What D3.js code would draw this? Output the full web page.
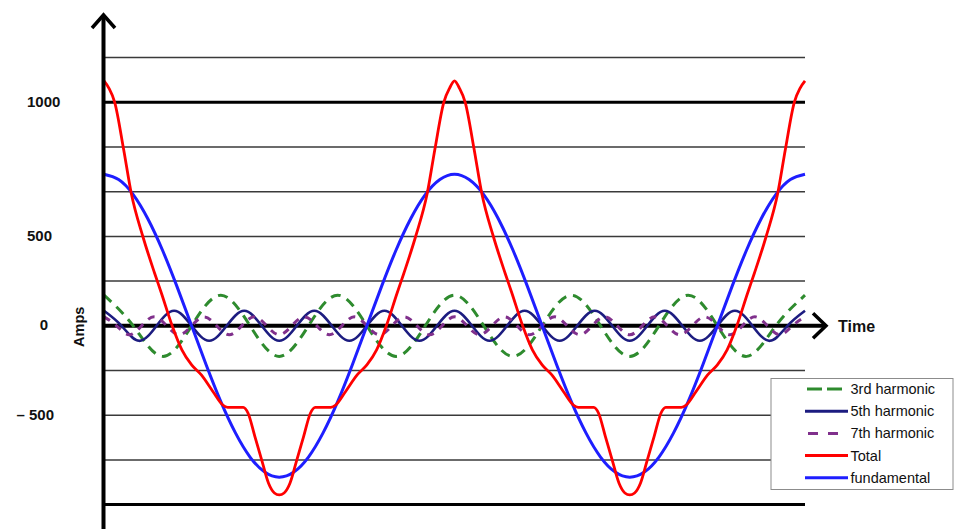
<!DOCTYPE html>
<html lang="en">
<head>
<meta charset="UTF-8">
<title>Harmonics and total current</title>
<script src="https://d3js.org/d3.v7.min.js"></script>
<style>
  body { margin: 0; background: #fff; }
  svg { display: block; font-family: "Liberation Sans", Arial, sans-serif; }
</style>
<script>
// Time is in degrees of the fundamental, values in Amps
var fundDeg  = [0,15,30,45,60,75,90,105,120,135,150,165,180,195,210,225,240,255,270,285,300,315,330,345,360,
                375,390,405,420,435,450,465,480,495,510,525,540,555,570,585,600,615,630,645,660,675,690,705,720];
var fundAmps = [732,712,656,566,424,219,0,-219,-424,-599,-734,-818,-847,-818,-734,-599,-424,-219,0,219,424,566,656,712,732,
                712,656,566,424,219,0,-219,-424,-599,-734,-818,-847,-818,-734,-599,-424,-219,0,219,424,566,656,712,732];

var thirdDeg  = [0,30,60,90,120,150,180,210,240,270,300,330,360,390,420,450,480,510,540,570,600,630,660,690,720];
var thirdAmps = [171,0,-171,0,171,0,-171,0,171,0,-171,0,171,0,-171,0,171,0,-171,0,171,0,-171,0,171];

var fifthDeg  = [0,18,36,54,72,90,108,126,144,162,180,198,216,234,252,270,288,306,324,342,360,
                 378,396,414,432,450,468,486,504,522,540,558,576,594,612,630,648,666,684,702,720];
var fifthAmps = [84,0,-84,0,84,0,-84,0,84,0,-84,0,84,0,-84,0,84,0,-84,0,84,
                 0,-84,0,84,0,-84,0,84,0,-84,0,84,0,-84,0,84,0,-84,0,84];

var seventhDeg  = [0,12.9,25.7,38.6,51.4,64.3,77.1,90,102.9,115.7,128.6,141.4,154.3,167.1,
                   180,192.9,205.7,218.6,231.4,244.3,257.1,270,282.9,295.7,308.6,321.4,334.3,347.1,
                   360,372.9,385.7,398.6,411.4,424.3,437.1,450,462.9,475.7,488.6,501.4,514.3,527.1,
                   540,552.9,565.7,578.6,591.4,604.3,617.1,630,642.9,655.7,668.6,681.4,694.3,707.1,720];
var seventhAmps = [50,0,-50,0,50,0,-50,0,50,0,-50,0,50,0,
                   -50,0,50,0,-50,0,50,0,-50,0,50,0,-50,0,
                   50,0,-50,0,50,0,-50,0,50,0,-50,0,50,0,
                   -50,0,50,0,-50,0,50,0,-50,0,50,0,-50,0,50];

var totalDeg  = [0,5,11,20,28,40,52,59,70,80,90,100,112,122,127,143,148,155,162,169,175,
                 180,185,191,198,205,212,217,233,238,248,260,270,280,290,301,308,320,332,340,349,355,
                 360,365,371,380,388,400,412,419,430,440,450,460,472,482,487,503,508,515,522,529,535,
                 540,545,551,558,565,572,577,593,598,608,620,630,640,650,661,668,680,692,700,709,715,720];
var totalAmps = [1080,1053,1000,828,661,498,294,182,0,-135,-219,-275,-369,-443,-456,-456,-489,-620,-751,-881,-935,
                 -946,-935,-881,-751,-620,-489,-456,-456,-443,-369,-275,-219,-135,0,182,294,498,661,828,1000,1053,
                 1080,1053,1000,828,661,498,294,182,0,-135,-219,-275,-369,-443,-456,-456,-489,-620,-751,-881,-935,
                 -946,-935,-881,-751,-620,-489,-456,-456,-443,-369,-275,-219,-135,0,182,294,498,661,828,1000,1053,1080];

// horizontal rules and the labelled ticks
var gridAmps = [-1000,-750,-500,-250,250,500,666.7,833.3,1000,1166.7];
var tickAmps = [1000,500,0,-500];

function diagram() {
  var width = 956, height = 529;
  var y0 = 325.8, step = 44.7;   // zero line and rule spacing

  var svg = d3.select("body").append("svg")
      .attr("width", width)
      .attr("height", height);

  var x = d3.scaleLinear().domain([0, 720]).range([104, 805]);
  // the drawn labels are not evenly spaced, so the scale is piecewise
  var y = d3.scaleLinear()
      .domain([-1000, 0, 500, 1000])
      .range([y0 + 4 * step, y0, y0 - 2 * step, y0 - 5 * step]);

  // rules
  svg.append("g").selectAll("line")
    .data(gridAmps)
    .enter().append("line")
      .attr("x1", x(0)).attr("x2", x(720))
      .attr("y1", function(d) { return y(d); })
      .attr("y2", function(d) { return y(d); })
      .attr("stroke", function(d) { return Math.abs(d) === 1000 ? "#000" : "#3a3a3a"; })
      .attr("stroke-width", function(d) { return Math.abs(d) === 1000 ? 3 : 1.5; });

  // tick labels
  svg.append("g").selectAll("text")
    .data(tickAmps)
    .enter().append("text")
      .attr("x", function(d) { return d > 0 ? 27 : (d === 0 ? 44 : 54); })
      .attr("y", function(d) { return y(d) - 1; })
      .attr("text-anchor", function(d) { return d > 0 ? "start" : (d === 0 ? "middle" : "end"); })
      .attr("dominant-baseline", "central")
      .attr("font-size", "15px")
      .attr("font-weight", "bold")
      .attr("fill", "#111")
      .text(function(d) { return d < 0 ? "\u2013 " + Math.abs(d) : d; });

  svg.append("text")
    .attr("transform", "translate(79," + (y0 + 1) + ") rotate(-90)")
    .attr("text-anchor", "middle")
    .attr("dominant-baseline", "central")
    .attr("font-size", "14.5px")
    .attr("font-weight", "bold")
    .attr("fill", "#111")
    .text("Amps");

  // time axis with arrow
  svg.append("line")
    .attr("x1", x(0)).attr("x2", 824)
    .attr("y1", y(0)).attr("y2", y(0))
    .attr("stroke", "#000").attr("stroke-width", 4);
  svg.append("polyline")
    .attr("points", [[813, y(0) - 12.5], [826, y(0)], [813, y(0) + 12.5]].join(" "))
    .attr("fill", "none").attr("stroke", "#000").attr("stroke-width", 3.5);
  svg.append("text")
    .attr("x", 838).attr("y", y(0) + 1)
    .attr("dominant-baseline", "central")
    .attr("font-size", "16px")
    .attr("font-weight", "bold")
    .attr("fill", "#111")
    .text("Time");

  var series = [
    { name: "3rd harmonic", deg: thirdDeg, amps: thirdAmps, color: "#2e8b2e", width: 3, dash: "10,7", key: "0,2,15,5,15,20", curve: d3.curveNatural },
    { name: "5th harmonic", deg: fifthDeg, amps: fifthAmps, color: "#1c1c80", width: 2.6, dash: null, key: null, curve: d3.curveNatural },
    { name: "7th harmonic", deg: seventhDeg, amps: seventhAmps, color: "#80308c", width: 3, dash: "7,7", key: "0,3,10,10,10,20", curve: d3.curveNatural },
    { name: "Total", deg: totalDeg, amps: totalAmps, color: "#ff0000", width: 2.8, dash: null, key: null, curve: d3.curveMonotoneX },
    { name: "fundamental", deg: fundDeg, amps: fundAmps, color: "#1e1eff", width: 3, dash: null, key: null, curve: d3.curveNatural }
  ];

  // drawing order: harmonics, fundamental, total
  var order = [0, 1, 2, 4, 3];
  order.forEach(function(i) {
    var s = series[i];
    var line = d3.line()
      .x(function(d, j) { return x(s.deg[j]); })
      .y(function(d) { return y(d); })
      .curve(s.curve);
    svg.append("path")
      .datum(s.amps)
      .attr("d", line)
      .attr("fill", "none")
      .attr("stroke", s.color)
      .attr("stroke-width", s.width)
      .attr("stroke-dasharray", s.dash);
  });

  // amps axis with arrow, on top of the curves
  svg.append("line")
    .attr("x1", 103.5).attr("x2", 103.5)
    .attr("y1", 15).attr("y2", height)
    .attr("stroke", "#000").attr("stroke-width", 4);
  svg.append("polyline")
    .attr("points", [[92, 28], [103.5, 15], [115, 28]].join(" "))
    .attr("fill", "none").attr("stroke", "#000").attr("stroke-width", 3.5);

  // legend
  var lg = svg.append("g").attr("transform", "translate(771,378.5)");
  lg.append("rect")
    .attr("width", 182).attr("height", 111)
    .attr("fill", "#fff")
    .attr("stroke", "#8c8c8c").attr("stroke-width", 1);
  var item = lg.selectAll("g")
    .data(series)
    .enter().append("g")
      .attr("transform", function(d, i) { return "translate(0," + (10.5 + i * 22.2) + ")"; });
  item.append("line")
    .attr("x1", 34).attr("x2", 77)
    .attr("stroke", function(d) { return d.color; })
    .attr("stroke-width", 3)
    .attr("stroke-dasharray", function(d) { return d.key; });
  item.append("text")
    .attr("x", 79.5)
    .attr("dominant-baseline", "central")
    .attr("font-size", "14.5px")
    .attr("fill", "#111")
    .text(function(d) { return d.name; });
}
</script>
</head>
<body onload="diagram()">
</body>
</html>
